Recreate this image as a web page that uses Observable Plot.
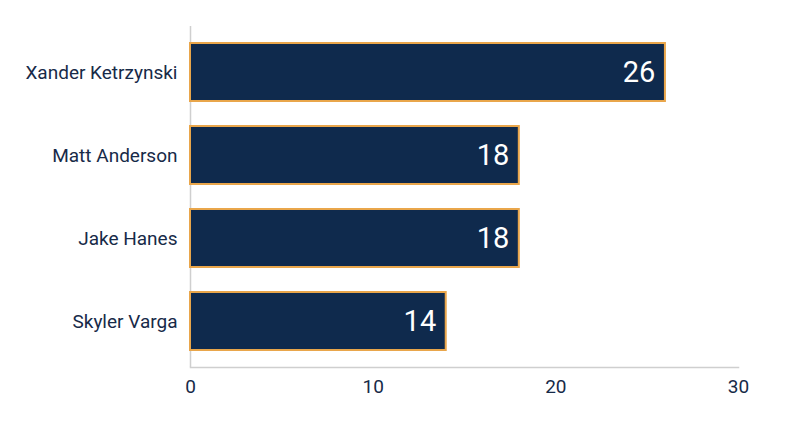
<!DOCTYPE html>
<html>
<head>
<meta charset="utf-8">
<script src="https://cdn.jsdelivr.net/npm/d3@7"></script>
<script src="https://cdn.jsdelivr.net/npm/@observablehq/plot@0.6"></script>
<style>
  html, body { margin: 0; padding: 0; background: #fff; }
  #chart { width: 800px; height: 447px; }
  svg { font-family: Roboto, sans-serif; }
</style>
</head>
<body>
<div id="chart"></div>
<script>
const names = ["Xander Ketrzynski", "Matt Anderson", "Jake Hanes", "Skyler Varga"];
const values = [26, 18, 18, 14];
const xTicks = [0, 10, 20, 30];

const data = names.map((n, i) => ({name: n, value: values[i]}));

const navy = "#0f2a4d";
const gold = "#e9a64b";
const textColor = "#172a48";

const chart = Plot.plot({
  width: 800,
  height: 447,
  marginLeft: 190,
  marginRight: 62,
  marginTop: 26,
  marginBottom: 80,
  style: {fontFamily: "Roboto, sans-serif", fontSize: "19px", color: textColor, background: "#fff"},
  x: {domain: [0, 30], ticks: xTicks, label: null},
  y: {domain: names, paddingInner: 0.3, paddingOuter: 0.2, label: null},
  marks: [
    Plot.axisY({tickSize: 0, tickPadding: 13, fontSize: 19, label: null}),
    Plot.axisX({ticks: xTicks, tickSize: 0, tickPadding: 12, fontSize: 19, label: null}),
    Plot.ruleX([0], {stroke: "#cfcfcf", strokeWidth: 1.5}),
    Plot.frame({anchor: "bottom", stroke: "#cfcfcf", strokeWidth: 1.5}),
    Plot.barX(data, {x: "value", y: "name", fill: navy, stroke: gold, strokeWidth: 2}),
    Plot.text(data, {x: "value", y: "name", text: d => String(d.value), fill: "#ffffff", textAnchor: "end", dx: -10, fontSize: 29})
  ]
});
document.getElementById("chart").appendChild(chart);
</script>
</body>
</html>
